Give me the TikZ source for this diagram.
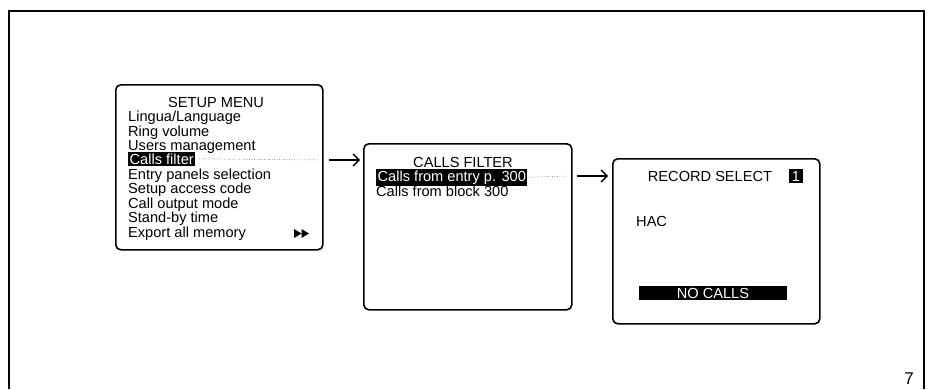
\documentclass[tikz,border=0pt]{standalone}
\usepackage{fontspec}
\setmainfont{Liberation Sans}
\usetikzlibrary{arrows.meta}

\begin{document}
\begin{tikzpicture}[x=1pt,y=-1pt]
          \tikzset{
            screen/.style={draw, line width=1.6pt, rounded corners=5pt, anchor=north west, inner sep=0pt},
            item/.style={anchor=base west, inner sep=0pt, font=\fontsize{14.6}{14}\selectfont},
            heading/.style={item, anchor=base},
            sel/.style={item, fill=black, text=white, inner xsep=1.5pt, inner ysep=1.5pt},
            edge/.style={-{Straight Barb[length=6pt,width=12pt]}, line width=1.3pt},
            lead/.style={dotted, line width=0.5pt}
          }
          \useasboundingbox (0,0) rectangle (928,389);
          \draw[line width=1.6pt] (9,389) -- (9,11) -- (924,11) -- (924,389);
          \node[font=\fontsize{17}{17}\selectfont, anchor=base east, inner sep=0pt] (page) at (914,384) {7};

          % screens
          \node[screen, minimum width=207pt, minimum height=165pt] (setup) at (115,84) {};
          \node[screen, minimum width=208pt, minimum height=166pt] (filter) at (363,143) {};
          \node[screen, minimum width=207pt, minimum height=165pt] (record) at (612,158) {};

          % setup menu
          \node[heading] (setuptitle) at (216,107) {SETUP MENU};
          \node[item] (lang) at (128,121) {Lingua/Language};
          \node[item] (ring) at (128,136) {Ring volume};
          \node[item] (users) at (128,150) {Users management};
          \node[sel] (calls) at (128,164) {Calls filter};
          \node[item] (panels) at (128,179) {Entry panels selection};
          \node[item] (code) at (128,193) {Setup access code};
          \node[item] (output) at (128,208) {Call output mode};
          \node[item] (standby) at (128,222) {Stand-by time};
          \node[item] (export) at (128,237) {Export all memory};
          \fill (294,229) -- (301.5,233.5) -- (294,238) -- cycle
                (301.5,229) -- (309,233.5) -- (301.5,238) -- cycle;

          % calls filter
          \node[heading] (filtertitle) at (463,167) {CALLS FILTER};
          \node[sel] (entry) at (376,181) {Calls from entry p. 300};
          \node[item] (block) at (376,196) {Calls from block 300};

          % record select
          \node[heading] (recordtitle) at (710,181) {RECORD SELECT};
          \node[sel, anchor=base, inner xsep=2.5pt, inner ysep=1.5pt] (number) at (796,181) {1};
          \node[item] (hac) at (636,226) {HAC};
          \node[sel, anchor=base, minimum width=148pt, inner ysep=1.5pt] (nocalls) at (713,298) {NO CALLS};

          %edges
          \coordinate (callsend) at (318,160);
          \coordinate (entryend) at (566,176);
          \draw[lead] (calls.east) ++(4,0) -- (callsend);
          \draw[lead] (entry.east) ++(2,0) -- (entryend);
          \draw[edge] (setup.east |- callsend) ++(5,0) -- ([xshift=-3pt]filter.west |- callsend);
          \draw[edge] (filter.east |- entryend) ++(4,0) -- ([xshift=-4pt]record.west |- entryend);
\end{tikzpicture}
\end{document}
